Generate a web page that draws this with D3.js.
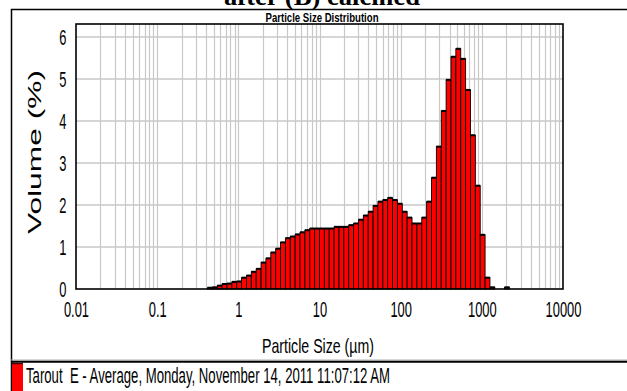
<!DOCTYPE html>
<html>
<head>
<meta charset="utf-8">
<script src="https://cdn.jsdelivr.net/npm/d3@7"></script>
<style>
  html, body { margin: 0; padding: 0; background: #fff; }
  svg { display: block; }
  text { font-family: "Liberation Sans", Arial, sans-serif; fill: #000; }
</style>
</head>
<body>
<svg id="chart" width="627" height="391"></svg>
<script>
// Size classes (µm): lower/upper edges of each measured class
const binEdges = [
  0.417, 0.479, 0.550, 0.631, 0.724, 0.832, 0.955, 1.096, 1.259, 1.445,
  1.660, 1.905, 2.188, 2.512, 2.884, 3.311, 3.802, 4.365, 5.012, 5.754,
  6.607, 7.586, 8.710, 10.000, 11.482, 13.183, 15.136, 17.378, 19.953, 22.909,
  26.303, 30.200, 34.674, 39.811, 45.709, 52.481, 60.256, 69.183, 79.433, 91.201,
  104.713, 120.226, 138.038, 158.489, 181.970, 208.930, 239.883, 275.423, 316.228, 363.078,
  416.869, 478.630, 549.541, 630.957, 724.436, 831.764, 954.993, 1096.478, 1258.925, 1445.440,
  1659.587, 1905.461, 2187.762
];

// Volume (%) in each size class
const volume = [
  0.03, 0.04, 0.08, 0.12, 0.13, 0.17, 0.18, 0.27, 0.32, 0.41,
  0.48, 0.63, 0.73, 0.87, 0.96, 1.11, 1.21, 1.25, 1.30, 1.35,
  1.40, 1.44, 1.44, 1.44, 1.44, 1.44, 1.48, 1.48, 1.48, 1.52,
  1.56, 1.65, 1.75, 1.84, 1.98, 2.08, 2.12, 2.17, 2.12, 2.03,
  1.84, 1.70, 1.56, 1.56, 1.70, 2.08, 2.65, 3.39, 4.24, 4.98,
  5.53, 5.72, 5.48, 4.74, 3.66, 2.46, 1.29, 0.27, 0.04, 0,
  0, 0.04
];

const xTicks = [0.01, 0.1, 1, 10, 100, 1000, 10000];
const xTickLabels = ["0.01", "0.1", "1", "10", "100", "1000", "10000"];
const yTicks = [0, 1, 2, 3, 4, 5, 6];

const pageTitle = "after (B) calcined";
const chartTitle = "Particle Size Distribution";
const xTitle = "Particle Size (µm)";
const yTitle = "Volume (%)";
const legendLabel = "Tarout  E - Average, Monday, November 14, 2011 11:07:12 AM";

const svg = d3.select("#chart");
const W = 627, H = 391;
const plot = { left: 76, right: 563, top: 24, bottom: 289 };
const narrow = 0.6; // horizontal squeeze of the report's text

svg.append("rect").attr("width", W).attr("height", H).attr("fill", "#fff");

const x = d3.scaleLog().domain([0.01, 10000]).range([plot.left, plot.right]);
const y = d3.scaleLinear().domain([0, 6.31]).range([plot.bottom, plot.top]);

// Page heading, partly cut off by the top edge
svg.append("text")
  .attr("x", 322).attr("y", 5)
  .attr("text-anchor", "middle")
  .attr("textLength", 196).attr("lengthAdjust", "spacingAndGlyphs")
  .style("font-family", "'Liberation Serif', 'Times New Roman', serif")
  .style("font-weight", "bold")
  .style("font-size", "26px")
  .text(pageTitle);

// Report panel border (top and left)
svg.append("path")
  .attr("d", `M11.5,${H} V9.5 H${W}`)
  .attr("fill", "none").attr("stroke", "#000").attr("stroke-width", 1.5);

// Chart title
svg.append("text")
  .attr("x", 322).attr("y", 22)
  .attr("text-anchor", "middle")
  .attr("textLength", 113).attr("lengthAdjust", "spacingAndGlyphs")
  .style("font-weight", "bold")
  .style("font-size", "13px")
  .text(chartTitle);

// Grid
const g = svg.append("g");
const minorTicks = [];
for (let e = -2; e < 4; e++) {
  for (let k = 1; k <= 9; k++) minorTicks.push(k * Math.pow(10, e));
}
g.selectAll("line.vgrid").data(minorTicks.filter(v => v > 0.01)).join("line")
  .attr("class", "vgrid")
  .attr("x1", d => Math.round(x(d)) + 0.5).attr("x2", d => Math.round(x(d)) + 0.5)
  .attr("y1", plot.top).attr("y2", plot.bottom)
  .attr("stroke", "#c8c8c8").attr("stroke-width", 1.2);
g.selectAll("line.hgrid").data(yTicks.filter(v => v > 0)).join("line")
  .attr("class", "hgrid")
  .attr("x1", plot.left).attr("x2", plot.right)
  .attr("y1", d => y(d)).attr("y2", d => y(d))
  .attr("stroke", "#c8c8c8").attr("stroke-width", 1.6);

// Bars
const bins = volume.map((v, i) => ({ x0: binEdges[i], x1: binEdges[i + 1], v }));
const bars = svg.append("g");
bars.selectAll("rect").data(bins.filter(b => b.v > 0)).join("rect")
  .attr("x", d => x(d.x0))
  .attr("width", d => x(d.x1) - x(d.x0))
  .attr("y", d => y(d.v))
  .attr("height", d => y(0) - y(d.v))
  .attr("fill", "#ff0000")
  .attr("stroke", "#000").attr("stroke-width", 0.9);
bars.selectAll("line").data(bins.filter(b => b.v > 0)).join("line")
  .attr("x1", d => x(d.x0)).attr("x2", d => x(d.x1))
  .attr("y1", d => y(d.v)).attr("y2", d => y(d.v))
  .attr("stroke", "#000").attr("stroke-width", 2);

// Frame
svg.append("rect")
  .attr("x", plot.left).attr("y", plot.top)
  .attr("width", plot.right - plot.left).attr("height", plot.bottom - plot.top)
  .attr("fill", "none").attr("stroke", "#000").attr("stroke-width", 1.6);

// Axes
const xAxis = svg.append("g").attr("transform", `translate(0,${plot.bottom})`)
  .call(d3.axisBottom(x).tickValues(xTicks).tickFormat((d, i) => xTickLabels[i]).tickSize(0));
xAxis.select(".domain").remove();
xAxis.selectAll("text")
  .attr("y", 28).attr("dy", null)
  .attr("transform", `scale(${narrow},1)`)
  .style("font-size", "21.5px")
  .style("font-family", "'Liberation Sans', Arial, sans-serif")
  .attr("fill", "#000");

const yAxis = svg.append("g").attr("transform", `translate(${plot.left},0)`)
  .call(d3.axisLeft(y).tickValues(yTicks).tickFormat(d3.format("d")).tickSize(0));
yAxis.select(".domain").remove();
yAxis.selectAll("text")
  .attr("x", -9.5 / narrow).attr("dy", "0.36em")
  .attr("transform", `scale(${narrow},1)`)
  .style("font-size", "21.5px")
  .style("font-family", "'Liberation Sans', Arial, sans-serif")
  .attr("fill", "#000");

// Axis titles
svg.append("text")
  .attr("x", 318).attr("y", 353)
  .attr("text-anchor", "middle")
  .attr("textLength", 112).attr("lengthAdjust", "spacingAndGlyphs")
  .style("font-size", "21px")
  .text(xTitle);

svg.append("text")
  .attr("transform", "translate(41,152) rotate(-90)")
  .attr("text-anchor", "middle")
  .attr("textLength", 164).attr("lengthAdjust", "spacingAndGlyphs")
  .style("font-size", "19px")
  .text(yTitle);

// Legend strip
svg.append("line")
  .attr("x1", 11).attr("x2", W).attr("y1", 360).attr("y2", 360)
  .attr("stroke", "#b0b0b0").attr("stroke-width", 1);
svg.append("line")
  .attr("x1", 11).attr("x2", W).attr("y1", 361.8).attr("y2", 361.8)
  .attr("stroke", "#000").attr("stroke-width", 2);
svg.append("rect")
  .attr("x", 12).attr("y", 363).attr("width", 11).attr("height", 30)
  .attr("fill", "#ff0000");
svg.append("line")
  .attr("x1", 12).attr("x2", 23).attr("y1", 363.5).attr("y2", 363.5)
  .attr("stroke", "#400").attr("stroke-width", 1.5);
svg.append("text")
  .attr("x", 26).attr("y", 383)
  .attr("textLength", 364).attr("lengthAdjust", "spacingAndGlyphs")
  .style("white-space", "pre")
  .style("font-size", "22px")
  .text(legendLabel);
</script>
</body>
</html>
